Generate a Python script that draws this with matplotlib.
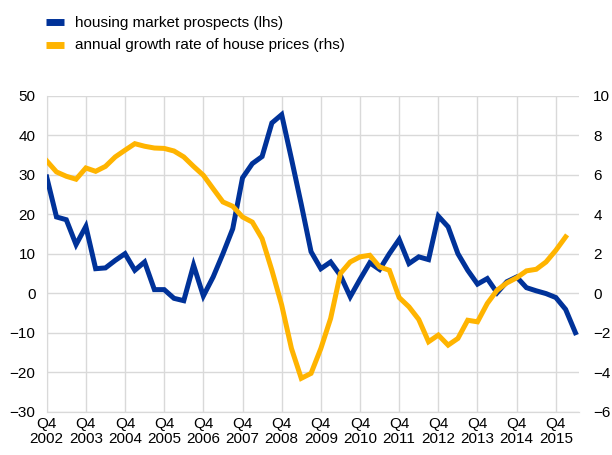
import matplotlib.pyplot as plt

plt.rcParams['font.family'] = ['Liberation Sans', 'DejaVu Sans']

# quarterly data, Q4 2002 onwards
prospects = [29.4, 19.3, 18.6, 12.3, 16.9, 6.2, 6.4, 8.3, 10.0, 5.8,
             7.9, 0.9, 0.9, -1.3, -1.9, 7.1, -0.7, 4.1, 10.0, 16.3,
             29.2, 32.8, 34.6, 43.1, 45.2, 34.0, 22.5, 10.5, 6.2, 7.9,
             4.5, -0.9, 3.5, 7.7, 6.0, 10.0, 13.6, 7.5, 9.2, 8.5,
             19.5, 16.8, 10.0, 5.8, 2.3, 3.7, 0.1, 2.9, 4.1, 1.4,
             0.6, -0.1, -1.1, -4.1, -10.0]
house_prices = [6.70, 6.14, 5.92, 5.77, 6.34, 6.17, 6.42, 6.90, 7.24, 7.57,
                7.44, 7.35, 7.33, 7.20, 6.90, 6.42, 5.97, 5.29, 4.62, 4.40,
                3.86, 3.60, 2.76, 1.16, -0.60, -2.80, -4.31, -4.06, -2.80, -1.28,
                1.00, 1.58, 1.84, 1.92, 1.33, 1.16, -0.22, -0.69, -1.33, -2.46,
                -2.12, -2.63, -2.29, -1.37, -1.45, -0.52, 0.15, 0.52, 0.78, 1.13,
                1.21, 1.58, 2.17, 2.85]
years = list(range(2002, 2016))
tick_labels = ["Q4\n%d" % y for y in years]

blue = "#003299"
orange = "#FFB400"
grid_col = "#d9d9d9"

fig = plt.figure(figsize=(6.12, 4.55), dpi=100)
ax = fig.add_axes([0.0763, 0.0952, 0.8703, 0.6945])
ax2 = ax.twinx()

l1, = ax.plot(range(len(prospects)), prospects, color=blue, lw=3.6,
              solid_joinstyle='miter', zorder=3)
l2, = ax2.plot(range(len(house_prices)), house_prices, color=orange, lw=3.6,
               solid_joinstyle='miter', zorder=3)

ax.set_xlim(0, 54.4)
ax.set_ylim(-30, 50)
ax2.set_ylim(-6, 10)
ax.set_yticks(range(-30, 51, 10))
ax2.set_yticks(range(-6, 11, 2))
ax.set_xticks([4 * i for i in range(len(years))])
ax.set_xticklabels(tick_labels)

ax.grid(True, color=grid_col, lw=1)
ax.set_axisbelow(True)
for a in (ax, ax2):
    for s in ("top", "right", "left"):
        a.spines[s].set_visible(False)
    a.spines["bottom"].set_color(grid_col)
    a.tick_params(length=0, labelsize=11, colors="black")
ax.spines["left"].set_visible(True)
ax.spines["left"].set_color(grid_col)
ax.tick_params(axis="y", pad=8)
ax2.tick_params(axis="y", pad=10)
ax.tick_params(axis="x", pad=4)
for t in ax.get_xticklabels():
    t.set_linespacing(1.1)

fig.legend([l1, l2], ["housing market prospects (lhs)",
                      "annual growth rate of house prices (rhs)"],
           loc="upper left", bbox_to_anchor=(0.052, 0.995), frameon=False,
           fontsize=11, handlelength=1.2, handleheight=0.5, labelspacing=0.55,
           handletextpad=0.75)
for h in fig.legends[0].legend_handles:
    h.set_linewidth(5)
    h.set_solid_capstyle('butt')

fig.savefig("out.png", dpi=100)
